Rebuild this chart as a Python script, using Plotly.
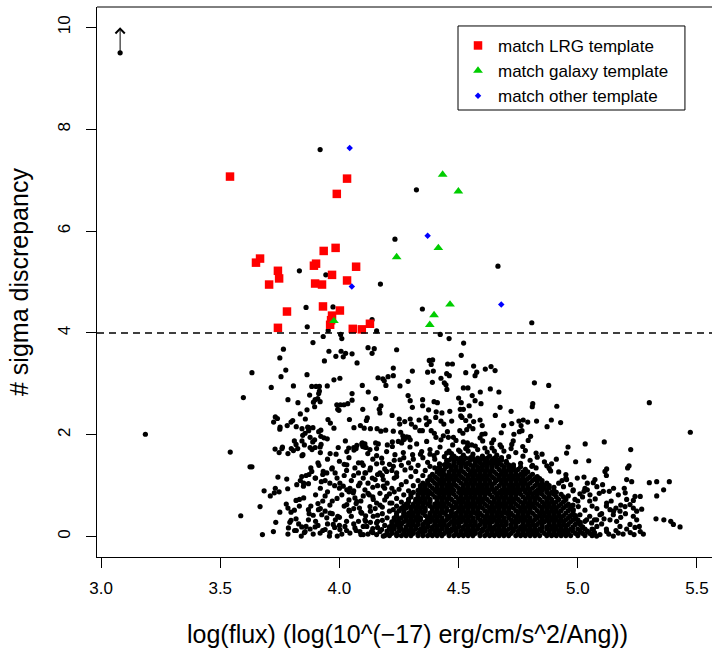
import plotly.graph_objects as go

# ── data ──────────────────────────────────────────────────────────────────────

# objects that match the LRG template (red squares)
lrg_pts = [
    (3.541, 7.07), (4.032, 7.03), (3.989, 6.73), (3.934, 5.61), (3.984, 5.67),
    (3.667, 5.46), (3.650, 5.38), (3.893, 5.32), (3.902, 5.36), (4.070, 5.30),
    (3.742, 5.22), (3.747, 5.07), (3.969, 5.14), (3.705, 4.95), (3.898, 4.97),
    (3.927, 4.95), (4.032, 5.03), (3.931, 4.52), (3.780, 4.42), (3.969, 4.34),
    (4.002, 4.44), (3.961, 4.16), (3.965, 4.25), (3.742, 4.10), (4.056, 4.08),
    (4.094, 4.07), (4.128, 4.18),
]

# objects that match a galaxy template (green triangles)
gal_pts = [
    (4.433, 7.11), (4.499, 6.78), (4.415, 5.67), (4.240, 5.49),
    (4.464, 4.56), (4.397, 4.35), (4.379, 4.16), (3.977, 4.235),
]

# objects that match some other template (blue diamonds)
oth_pts = [(4.043, 7.63), (4.370, 5.91), (4.052, 4.91), (4.679, 4.56)]

# lower limit shown with an arrow
lim_x = 3.08
lim_y = 9.5
lim_top = 10.0

threshold = 4.0

# all other objects (black dots), the scattered ones
dot_pts = [
    (3.080, 9.50), (3.919, 7.60), (4.323, 6.81), (4.233, 5.84), (4.665, 5.31), (3.832, 5.22),
    (3.943, 5.14), (4.172, 4.96), (3.860, 4.50), (3.973, 4.51), (4.348, 4.47), (4.137, 4.26),
    (4.807, 4.20), (3.865, 4.12), (3.953, 4.05), (4.156, 4.04),
    (3.765, 3.68), (3.750, 3.51), (3.775, 3.27), (3.755, 3.14), (3.633, 3.22), (3.864, 3.18),
    (3.807, 2.96), (3.714, 2.93), (3.597, 2.73), (3.784, 2.69), (3.826, 2.63), (3.864, 2.49),
    (3.836, 2.41), (3.731, 2.35), (3.740, 2.32), (3.724, 2.25), (3.797, 2.25), (3.804, 2.28),
    (3.781, 2.18), (3.751, 2.15), (3.750, 2.11), (3.819, 2.16), (3.843, 2.12), (3.867, 2.15),
    (3.856, 2.03), (3.846, 1.99), (3.186, 2.01), (3.811, 1.88), (3.843, 1.88), (3.853, 1.80),
    (3.730, 1.72), (3.759, 1.73), (3.747, 1.65), (3.784, 1.63), (3.798, 1.73), (3.825, 1.73),
    (3.843, 1.59), (3.847, 1.61), (3.542, 1.66), (3.625, 1.37), (3.633, 1.37), (3.742, 1.17),
    (3.779, 1.13), (3.842, 1.18), (3.860, 1.20), (3.849, 0.99), (3.870, 1.04), (3.684, 0.90),
    (3.731, 0.95), (3.727, 0.86), (3.747, 0.88), (3.710, 0.80), (3.783, 0.94), (3.818, 0.71),
    (3.832, 0.73), (3.850, 0.76), (3.667, 0.59), (3.777, 0.64), (3.784, 0.56), (3.832, 0.60),
    (3.750, 0.48), (3.797, 0.48), (3.811, 0.52), (3.870, 0.53), (3.873, 0.45), (3.586, 0.41),
    (3.733, 0.28), (3.792, 0.28), (3.797, 0.32), (3.818, 0.35), (3.829, 0.25), (3.860, 0.20),
    (3.723, 0.10), (3.677, 0.04), (3.784, 0.05), (3.812, 0.12), (3.819, 0.12), (3.840, 0.01),
    (3.853, 0.08),
    (4.423, 3.97), (4.460, 3.89), (4.521, 3.80), (3.889, 3.81), (3.932, 3.93), (4.005, 3.97),
    (4.010, 3.89), (4.120, 3.71), (4.146, 3.69), (4.137, 3.60), (3.956, 3.64), (4.007, 3.64),
    (4.016, 3.53), (4.026, 3.60), (4.053, 3.59), (3.985, 3.54), (4.240, 3.67), (3.937, 3.45),
    (4.074, 3.41), (4.511, 3.56), (4.377, 3.46), (4.391, 3.47), (4.385, 3.38), (4.454, 3.39),
    (4.474, 3.39), (4.226, 3.31), (4.306, 3.25), (4.370, 3.23), (4.394, 3.25), (4.450, 3.20),
    (4.461, 3.16), (4.530, 3.22), (4.162, 3.12), (4.182, 3.10), (4.188, 3.06), (4.204, 3.14),
    (4.226, 3.16), (3.977, 3.08), (4.002, 3.11), (4.390, 3.03), (4.426, 3.11), (4.440, 3.02),
    (4.447, 2.98), (3.884, 2.95), (3.902, 2.95), (3.916, 2.95), (3.916, 2.86), (3.913, 2.81),
    (3.949, 2.96), (4.096, 2.97), (4.195, 2.97), (4.254, 2.96), (4.288, 3.05), (4.451, 2.89),
    (4.520, 2.92), (4.539, 2.92), (3.875, 2.78), (3.898, 2.69), (3.909, 2.71), (3.919, 2.65),
    (3.891, 2.64), (4.053, 2.81), (4.053, 2.68), (4.121, 2.84), (4.152, 2.71), (4.288, 2.77),
    (4.297, 2.67), (4.349, 2.69), (4.397, 2.65), (4.411, 2.63), (4.500, 2.72), (4.511, 2.63),
    (3.896, 2.55), (3.989, 2.59), (4.004, 2.59), (4.019, 2.59), (4.035, 2.61), (3.993, 2.50),
    (3.998, 2.48), (4.098, 2.50), (4.174, 2.57), (4.167, 2.50), (4.170, 2.43), (4.306, 2.54),
    (4.349, 2.57), (4.374, 2.49), (4.406, 2.45), (4.430, 2.43), (4.463, 2.46), (4.507, 2.50),
    (4.520, 2.50), (4.544, 2.57), (3.857, 2.31), (3.952, 2.30), (3.962, 2.23), (4.042, 2.30),
    (4.117, 2.33), (4.113, 2.28), (4.221, 2.38), (4.251, 2.31), (4.274, 2.26), (4.253, 2.21),
    (4.297, 2.31), (4.302, 2.21), (4.334, 2.29), (4.363, 2.33), (4.377, 2.26), (4.366, 2.20),
    (4.404, 2.34), (4.426, 2.27), (4.438, 2.21), (4.471, 2.27), (4.509, 2.37), (4.514, 2.34),
    (4.530, 2.28), (4.545, 2.17), (3.871, 2.14), (3.889, 2.14), (3.871, 2.08), (3.922, 2.09),
    (3.913, 2.06), (3.977, 2.13), (4.061, 2.14), (4.088, 2.18), (4.104, 2.13), (4.130, 2.12),
    (4.158, 2.12), (4.174, 2.07), (4.194, 2.09), (4.226, 2.07), (4.257, 2.05), (4.266, 1.98),
    (4.272, 1.91), (4.291, 1.95), (4.297, 1.90), (4.318, 2.15), (4.337, 2.08), (4.348, 2.08),
    (4.385, 2.08), (4.398, 2.03), (4.405, 1.95), (4.426, 1.90), (4.436, 1.98), (4.453, 2.06),
    (4.457, 1.95), (4.478, 1.95), (4.489, 1.89), (4.505, 2.08), (4.518, 2.03), (4.534, 2.10),
    (3.877, 1.95), (3.896, 1.90), (3.888, 1.86), (3.922, 1.97), (3.935, 1.94), (3.949, 1.92),
    (4.025, 1.88), (4.096, 1.84), (4.107, 1.82), (4.152, 1.84), (4.163, 1.82), (4.201, 1.80),
    (4.222, 1.86), (4.247, 1.87), (4.267, 1.90), (4.282, 1.96), (3.877, 1.75), (3.898, 1.75),
    (3.919, 1.76), (4.039, 1.74), (4.060, 1.75), (4.070, 1.73), (4.098, 1.77), (4.112, 1.75),
    (4.156, 1.73),
    (3.761, 1.76), (3.807, 1.69), (3.818, 1.81), (3.885, 1.71), (3.920, 1.65), (3.923, 1.81),
    (3.961, 1.63), (3.986, 1.62), (3.995, 1.75), (4.031, 1.67), (4.061, 1.70), (4.073, 1.79),
    (4.094, 1.82), (4.104, 1.76), (4.119, 1.63), (4.128, 1.71), (4.156, 1.59), (4.177, 1.54),
    (4.198, 1.67), (4.222, 1.77), (4.233, 1.61), (4.261, 1.84), (4.268, 1.65), (4.296, 1.76),
    (4.307, 1.61), (4.324, 1.82), (4.345, 1.67), (4.366, 1.87), (4.380, 1.71), (4.397, 1.59),
    (4.422, 1.76), (4.450, 1.64), (4.475, 1.80), (4.506, 1.67), (4.537, 1.77), (3.914, 1.40),
    (3.932, 1.28), (3.947, 1.25), (3.968, 1.33), (3.982, 1.25), (3.872, 1.22), (3.884, 1.28),
    (3.898, 1.15), (3.924, 1.08), (4.031, 1.41), (4.065, 1.35), (4.094, 1.45), (4.107, 1.25),
    (4.128, 1.31), (4.138, 1.15), (4.156, 1.43), (4.170, 1.25), (4.184, 1.12), (4.198, 1.28),
    (4.226, 1.38), (4.240, 1.18), (4.254, 1.51), (4.275, 1.31), (3.836, 1.10), (3.850, 1.05),
    (3.821, 1.02), (3.912, 0.53), (3.926, 0.43), (3.947, 0.37), (3.961, 0.46), (3.983, 0.33),
    (3.993, 0.40), (4.031, 0.63), (4.042, 0.50), (4.073, 0.69), (4.084, 0.56), (4.094, 0.46),
    (4.107, 0.33), (4.128, 0.59), (4.142, 0.40), (4.156, 0.27), (3.786, 0.17), (3.842, 0.19),
    (3.856, 0.10), (3.877, 0.15), (3.898, 0.19), (3.919, 0.07), (3.940, 0.14), (3.958, 0.01),
    (3.991, 0.01), (3.974, 0.24), (4.002, 0.14), (4.023, 0.20), (4.044, 0.07), (4.065, 0.17),
    (4.086, 0.10), (4.100, 0.04), (4.115, 0.20), (4.135, 0.10), (4.156, 0.04), (4.177, 0.14),
    (4.184, 0.01), (4.002, 1.05), (4.016, 0.99), (4.031, 0.92), (4.044, 0.95), (4.058, 0.86),
    (4.065, 0.76), (4.086, 1.05), (4.107, 0.92), (4.125, 0.82), (4.142, 0.73), (4.156, 0.66),
    (4.184, 0.99), (4.198, 0.79), (4.212, 0.66), (4.226, 0.53), (4.240, 0.40), (4.254, 0.27),
    (4.563, 3.35), (4.576, 3.23), (4.569, 3.16), (4.612, 3.29), (4.636, 3.34), (4.653, 3.26),
    (4.591, 2.84), (4.633, 2.90), (4.669, 2.84), (4.557, 2.77), (4.569, 2.67), (4.594, 2.61),
    (4.818, 3.02), (4.878, 2.97), (4.811, 2.61), (4.809, 2.55), (4.912, 2.56), (4.674, 2.54),
    (4.720, 2.46), (4.654, 2.38), (4.547, 2.37), (4.827, 2.27), (4.889, 2.29), (4.928, 2.24),
    (4.871, 2.16), (4.563, 2.26), (4.590, 2.29), (4.599, 2.18), (4.723, 2.22), (4.689, 2.18),
    (4.753, 2.27), (4.771, 2.29), (4.790, 2.25), (4.762, 2.18), (4.766, 2.08), (4.755, 2.06),
    (4.679, 2.04), (4.732, 2.01), (4.802, 1.97), (4.792, 1.89), (4.560, 2.12), (4.598, 2.01),
    (4.611, 2.02), (4.590, 1.94), (4.601, 1.88), (4.647, 1.90), (4.639, 1.84), (4.674, 1.80),
    (4.729, 1.88), (4.723, 1.81), (4.769, 1.77), (4.520, 1.86), (4.537, 1.84), (4.555, 1.80),
    (5.300, 2.63), (5.472, 2.05), (4.959, 1.76), (4.953, 1.64), (5.031, 1.82), (5.111, 1.86),
    (5.222, 1.71), (4.991, 1.47), (5.046, 1.49), (5.114, 1.28), (5.121, 1.33), (5.215, 1.39),
    (5.209, 1.35), (4.825, 1.64), (4.870, 1.39), (4.886, 1.29), (4.807, 1.38), (4.825, 1.35),
    (4.934, 1.10), (4.953, 1.12), (4.998, 1.15), (5.026, 1.17), (5.065, 1.06), (5.072, 1.12),
    (5.104, 1.02), (5.205, 1.12), (5.226, 1.08), (5.300, 1.06), (5.331, 1.08), (5.384, 1.08),
    (5.360, 0.92), (5.331, 0.80), (5.195, 0.95), (5.199, 0.86), (5.107, 0.89), (5.132, 0.89),
    (5.040, 0.92), (5.051, 0.82), (5.073, 0.74), (4.981, 0.92), (5.009, 0.84), (5.026, 0.89),
    (5.262, 0.79), (5.240, 0.79), (5.233, 0.71), (5.205, 0.73), (5.219, 0.63), (5.233, 0.56),
    (5.247, 0.50), (5.268, 0.54), (5.160, 0.56), (5.177, 0.50), (5.198, 0.59), (5.121, 0.66),
    (5.135, 0.53), (5.149, 0.43), (5.163, 0.30), (5.328, 0.35), (5.361, 0.33), (5.390, 0.30),
    (5.401, 0.24), (5.429, 0.19), (5.233, 0.40), (5.247, 0.33), (5.258, 0.20), (5.262, 0.10),
    (5.275, 0.05), (5.236, 0.04), (5.177, 0.20), (5.205, 0.15), (5.219, 0.24), (5.135, 0.33),
    (5.170, 0.07), (5.149, 0.01), (5.065, 0.14), (5.093, 0.04), (5.121, 0.10), (5.079, 0.01),
    (5.037, 0.33), (5.058, 0.27), (5.079, 0.33), (5.093, 0.43), (4.988, 0.73), (5.002, 0.59),
    (4.981, 0.53), (5.009, 0.43), (4.967, 0.40),
]

# black dots on the fringe of the dense clump (estimated)
fringe_pts = [
    (4.56, 1.62), (4.58, 1.71), (4.60, 1.58), (4.62, 1.66), (4.64, 1.74), (4.66, 1.60),
    (4.69, 1.68), (4.71, 1.57), (4.74, 1.65), (4.77, 1.58), (4.80, 1.50), (4.83, 1.56),
    (4.86, 1.47), (4.89, 1.43), (4.91, 1.52), (4.72, 1.73), (4.78, 1.69), (4.85, 1.62),
    (4.70, 1.48), (4.76, 1.44), (4.81, 1.40), (4.88, 1.34), (4.92, 1.27), (4.95, 1.22),
    (4.62, 1.50), (4.66, 1.52), (4.58, 1.49),
    (4.27, 1.55), (4.29, 1.45), (4.31, 1.52), (4.33, 1.40), (4.35, 1.55), (4.37, 1.46),
    (4.40, 1.52), (4.42, 1.43), (4.44, 1.57), (4.46, 1.68), (4.48, 1.58), (4.50, 1.52),
    (4.52, 1.60), (4.54, 1.68), (4.30, 1.35), (4.26, 1.40), (4.34, 1.62), (4.38, 1.62),
    (4.41, 1.65), (4.45, 1.50),
    (4.12, 0.05), (4.14, 0.16), (4.16, 0.30), (4.17, 0.10), (4.19, 0.22), (4.20, 0.37),
    (4.18, 0.45), (4.21, 0.50), (4.13, 0.28), (4.11, 0.41), (4.15, 0.55), (4.17, 0.62),
    (4.19, 0.72), (4.21, 0.84), (4.22, 0.95), (4.20, 1.05), (4.23, 1.15), (4.24, 0.60),
    (4.10, 0.20), (4.08, 0.30), (4.05, 0.40), (4.07, 0.12), (4.03, 0.30), (4.00, 0.22),
    (4.04, 0.52), (4.09, 0.70), (4.12, 0.85), (4.14, 0.97), (4.06, 0.90), (4.10, 1.15),
    (4.16, 1.22), (4.19, 1.33), (4.21, 1.42), (4.24, 1.25), (4.13, 1.35), (4.08, 1.25),
    (4.02, 1.20), (4.05, 1.10), (3.98, 1.00), (3.95, 0.88), (3.99, 0.75), (3.96, 0.62),
    (3.93, 0.70), (3.90, 0.82), (3.88, 0.60), (3.92, 0.55), (3.95, 0.25), (3.90, 0.30),
    (3.87, 0.33), (3.94, 1.10), (3.97, 1.35), (4.00, 1.48), (4.04, 1.55), (4.08, 1.45),
    (3.91, 1.45), (3.88, 1.35),
    (5.00, 0.05), (5.02, 0.18), (5.04, 0.10), (5.01, 0.28), (4.99, 0.36), (5.05, 0.40),
    (5.03, 0.52), (4.98, 0.62), (5.00, 0.70), (4.96, 0.80), (4.94, 0.98), (4.97, 1.02),
    (4.92, 1.05), (4.90, 0.97), (5.08, 0.20), (5.10, 0.25), (5.12, 0.15), (5.10, 0.45),
    (5.06, 0.60), (5.14, 0.70), (5.16, 0.12), (5.18, 0.38), (5.03, 0.95), (5.08, 0.98),
    (5.12, 1.20), (5.15, 0.95),
    (3.89, 0.05), (3.91, 0.22), (3.93, 0.12), (3.96, 0.08), (3.98, 0.18), (4.01, 0.05),
    (4.03, 0.12), (4.06, 0.25), (4.09, 0.04), (4.11, 0.30), (4.14, 0.08), (4.16, 0.18),
    (4.18, 0.32), (3.89, 0.42), (3.94, 0.50), (3.97, 0.45), (4.00, 0.38), (4.02, 0.60),
    (4.06, 0.55), (4.09, 0.48), (4.13, 0.50), (4.16, 0.42), (4.18, 0.58), (3.91, 0.65),
    (3.94, 0.80), (3.97, 0.70), (4.01, 0.82), (4.04, 0.72), (4.07, 0.65), (4.10, 0.80),
    (4.14, 0.78), (4.17, 0.85), (3.92, 0.95), (3.96, 1.05), (4.00, 0.95), (4.04, 0.88),
    (4.08, 1.00), (4.12, 1.05), (4.16, 1.00), (4.19, 0.95), (3.90, 1.15), (3.93, 1.22),
    (3.99, 1.15), (4.03, 1.30), (4.06, 1.20), (4.11, 1.25), (4.15, 1.12), (4.18, 1.20),
    (4.22, 1.30), (3.95, 1.52), (4.02, 1.42), (4.10, 1.40), (4.14, 1.52), (4.18, 1.45),
    (4.23, 1.50),
    (4.22, 0.66), (4.24, 0.75), (4.26, 0.68), (4.23, 0.88), (4.25, 0.93), (4.27, 0.82),
    (4.29, 0.90), (4.26, 1.02), (4.28, 1.08), (4.31, 1.00), (4.30, 1.18), (4.33, 1.10),
    (4.35, 1.20), (4.32, 1.28), (4.36, 1.30), (4.38, 1.38), (4.40, 1.35),
    (4.47, 1.63), (4.50, 1.70), (4.53, 1.73), (4.57, 1.78), (4.61, 1.74), (4.65, 1.68),
    (4.68, 1.76), (4.63, 1.58), (4.68, 1.55), (4.55, 1.55),
    (4.95, 1.15), (4.98, 0.90), (5.02, 0.78), (5.05, 0.70), (5.08, 0.55), (5.11, 0.35),
    (5.13, 0.05), (5.07, 0.08), (5.03, 0.30), (5.06, 0.15), (5.04, 1.05), (5.09, 0.85),
    (5.12, 0.60), (5.15, 0.50), (5.18, 0.62), (5.17, 0.82), (5.20, 0.45), (5.22, 0.08),
    (5.19, 0.05), (5.24, 0.18), (5.07, 0.33),
]

# the dense clump, one list of log(flux) values per sigma level (estimated)
blob_levels = [0.02, 0.11, 0.19, 0.29, 0.37, 0.46, 0.56, 0.64, 0.73,
               0.83, 0.91, 1.00, 1.10, 1.18, 1.27, 1.37, 1.45, 1.54]
blob_rows = [
    [4.19, 4.21, 4.24, 4.26, 4.28, 4.30, 4.33, 4.35, 4.37, 4.39, 4.41, 4.43, 4.46, 4.48, 4.50,
     4.52, 4.54, 4.56, 4.59, 4.61, 4.63, 4.65, 4.67, 4.69, 4.71, 4.74, 4.76, 4.78, 4.80, 4.82,
     4.84, 4.87, 4.89, 4.91, 4.93, 4.95, 4.97, 5.00, 5.03, 5.06],
    [4.20, 4.22, 4.25, 4.27, 4.29, 4.31, 4.34, 4.36, 4.38, 4.40, 4.42, 4.45, 4.47, 4.49, 4.51,
     4.53, 4.55, 4.57, 4.60, 4.62, 4.64, 4.66, 4.68, 4.70, 4.73, 4.75, 4.77, 4.79, 4.81, 4.83,
     4.85, 4.88, 4.90, 4.92, 4.94, 4.96, 4.98, 5.01, 5.04],
    [4.21, 4.23, 4.25, 4.28, 4.30, 4.32, 4.35, 4.37, 4.39, 4.41, 4.43, 4.45, 4.48, 4.50, 4.52,
     4.54, 4.56, 4.58, 4.61, 4.63, 4.65, 4.67, 4.69, 4.72, 4.74, 4.76, 4.78, 4.80, 4.82, 4.85,
     4.87, 4.89, 4.91, 4.93, 4.95, 4.98, 5.02],
    [4.22, 4.24, 4.27, 4.29, 4.31, 4.33, 4.36, 4.38, 4.40, 4.42, 4.44, 4.47, 4.49, 4.51, 4.53,
     4.55, 4.57, 4.60, 4.62, 4.64, 4.66, 4.68, 4.70, 4.73, 4.75, 4.77, 4.79, 4.81, 4.84, 4.86,
     4.88, 4.90, 4.92, 4.94, 4.97, 5.00],
    [4.23, 4.26, 4.28, 4.30, 4.32, 4.34, 4.37, 4.39, 4.41, 4.43, 4.46, 4.48, 4.50, 4.52, 4.54,
     4.56, 4.58, 4.61, 4.63, 4.65, 4.67, 4.69, 4.71, 4.74, 4.76, 4.78, 4.80, 4.83, 4.85, 4.87,
     4.89, 4.91, 4.93, 4.96, 4.99],
    [4.24, 4.27, 4.29, 4.31, 4.33, 4.35, 4.38, 4.40, 4.42, 4.44, 4.47, 4.49, 4.51, 4.53, 4.55,
     4.57, 4.59, 4.62, 4.64, 4.66, 4.68, 4.70, 4.72, 4.75, 4.77, 4.79, 4.81, 4.84, 4.86, 4.88,
     4.90, 4.92, 4.95, 4.98],
    [4.26, 4.28, 4.30, 4.32, 4.34, 4.36, 4.39, 4.41, 4.43, 4.45, 4.48, 4.50, 4.52, 4.54, 4.56,
     4.58, 4.60, 4.63, 4.65, 4.67, 4.69, 4.71, 4.73, 4.76, 4.78, 4.80, 4.82, 4.85, 4.87, 4.89,
     4.91, 4.94, 4.97],
    [4.28, 4.31, 4.33, 4.35, 4.37, 4.40, 4.42, 4.44, 4.46, 4.49, 4.51, 4.53, 4.55, 4.57, 4.59,
     4.61, 4.64, 4.66, 4.68, 4.70, 4.72, 4.74, 4.77, 4.79, 4.81, 4.83, 4.86, 4.88, 4.90, 4.93,
     4.96],
    [4.29, 4.32, 4.34, 4.36, 4.38, 4.41, 4.43, 4.45, 4.47, 4.50, 4.52, 4.54, 4.56, 4.58, 4.60,
     4.62, 4.65, 4.67, 4.69, 4.71, 4.73, 4.75, 4.78, 4.80, 4.82, 4.84, 4.87, 4.89, 4.92, 4.95],
    [4.30, 4.33, 4.35, 4.37, 4.39, 4.42, 4.44, 4.46, 4.48, 4.51, 4.53, 4.55, 4.57, 4.59, 4.61,
     4.63, 4.66, 4.68, 4.70, 4.72, 4.74, 4.76, 4.79, 4.81, 4.83, 4.85, 4.88, 4.90, 4.93],
    [4.33, 4.35, 4.37, 4.40, 4.42, 4.44, 4.46, 4.48, 4.51, 4.53, 4.55, 4.57, 4.59, 4.61, 4.63,
     4.65, 4.68, 4.70, 4.72, 4.74, 4.76, 4.78, 4.80, 4.83, 4.85, 4.87, 4.90],
    [4.34, 4.36, 4.38, 4.41, 4.43, 4.45, 4.47, 4.49, 4.52, 4.54, 4.56, 4.58, 4.60, 4.62, 4.64,
     4.67, 4.69, 4.71, 4.73, 4.75, 4.77, 4.79, 4.82, 4.84, 4.86, 4.88],
    [4.37, 4.39, 4.42, 4.44, 4.46, 4.48, 4.50, 4.53, 4.55, 4.57, 4.59, 4.61, 4.63, 4.66, 4.68,
     4.70, 4.72, 4.74, 4.76, 4.78, 4.81, 4.83, 4.85],
    [4.38, 4.40, 4.43, 4.45, 4.47, 4.49, 4.51, 4.54, 4.56, 4.58, 4.60, 4.62, 4.64, 4.67, 4.69,
     4.71, 4.73, 4.75, 4.77, 4.80, 4.83],
    [4.41, 4.43, 4.46, 4.48, 4.50, 4.52, 4.55, 4.57, 4.59, 4.61, 4.63, 4.65, 4.68, 4.70, 4.72,
     4.74, 4.77, 4.79],
    [4.42, 4.45, 4.47, 4.49, 4.51, 4.53, 4.56, 4.58, 4.60, 4.62, 4.64, 4.66, 4.69, 4.71, 4.73,
     4.76],
    [4.45, 4.48, 4.50, 4.52, 4.54, 4.57, 4.59, 4.61, 4.63, 4.65, 4.67, 4.70],
    [4.47, 4.49, 4.51, 4.53, 4.56, 4.58, 4.60, 4.62, 4.65],
]

# more of the dense clump, between the levels above (estimated)
blob_mid_levels = [0.065, 0.15, 0.24, 0.33, 0.415, 0.51, 0.60, 0.685, 0.78,
                   0.87, 0.955, 1.05, 1.14, 1.225, 1.32, 1.41, 1.50]
blob_mid_rows = [
    [4.20, 4.22, 4.24, 4.27, 4.29, 4.31, 4.33, 4.35, 4.38, 4.40, 4.42, 4.44, 4.46, 4.49, 4.51,
     4.53, 4.55, 4.57, 4.59, 4.62, 4.64, 4.66, 4.68, 4.70, 4.72, 4.75, 4.77, 4.79, 4.81, 4.83,
     4.86, 4.88, 4.90, 4.92, 4.94, 4.96, 4.99, 5.02, 5.05],
    [4.21, 4.23, 4.26, 4.28, 4.30, 4.32, 4.34, 4.36, 4.39, 4.41, 4.43, 4.45, 4.47, 4.49, 4.52,
     4.54, 4.56, 4.58, 4.60, 4.63, 4.65, 4.67, 4.69, 4.71, 4.73, 4.76, 4.78, 4.80, 4.82, 4.84,
     4.87, 4.89, 4.91, 4.93, 4.95, 4.97, 5.00, 5.03],
    [4.22, 4.24, 4.26, 4.29, 4.31, 4.33, 4.35, 4.37, 4.40, 4.42, 4.44, 4.46, 4.48, 4.50, 4.53,
     4.55, 4.57, 4.59, 4.61, 4.63, 4.66, 4.68, 4.70, 4.72, 4.74, 4.77, 4.79, 4.81, 4.83, 4.85,
     4.88, 4.90, 4.92, 4.94, 4.96, 4.99, 5.01],
    [4.23, 4.25, 4.28, 4.30, 4.32, 4.34, 4.37, 4.39, 4.41, 4.43, 4.45, 4.48, 4.50, 4.52, 4.54,
     4.56, 4.59, 4.61, 4.63, 4.65, 4.67, 4.69, 4.72, 4.74, 4.76, 4.78, 4.80, 4.82, 4.85, 4.87,
     4.89, 4.91, 4.93, 4.95, 4.98, 5.00],
    [4.24, 4.27, 4.29, 4.31, 4.33, 4.36, 4.38, 4.40, 4.42, 4.45, 4.47, 4.49, 4.51, 4.53, 4.55,
     4.58, 4.60, 4.62, 4.64, 4.66, 4.68, 4.71, 4.73, 4.75, 4.77, 4.79, 4.82, 4.84, 4.86, 4.88,
     4.90, 4.92, 4.94, 4.97, 4.99],
    [4.25, 4.27, 4.30, 4.32, 4.34, 4.36, 4.39, 4.41, 4.43, 4.45, 4.47, 4.50, 4.52, 4.54, 4.56,
     4.58, 4.61, 4.63, 4.65, 4.67, 4.69, 4.71, 4.74, 4.76, 4.78, 4.80, 4.83, 4.85, 4.87, 4.89,
     4.91, 4.93, 4.96, 4.98],
    [4.27, 4.29, 4.31, 4.33, 4.35, 4.38, 4.40, 4.42, 4.44, 4.47, 4.49, 4.51, 4.53, 4.55, 4.57,
     4.59, 4.62, 4.64, 4.66, 4.68, 4.70, 4.72, 4.75, 4.77, 4.79, 4.81, 4.84, 4.86, 4.88, 4.90,
     4.92, 4.95, 4.97],
    [4.29, 4.32, 4.34, 4.36, 4.38, 4.41, 4.43, 4.45, 4.48, 4.50, 4.52, 4.54, 4.56, 4.58, 4.60,
     4.63, 4.65, 4.67, 4.69, 4.71, 4.73, 4.76, 4.78, 4.80, 4.82, 4.85, 4.87, 4.89, 4.91, 4.94],
    [4.30, 4.33, 4.35, 4.37, 4.40, 4.42, 4.44, 4.46, 4.49, 4.51, 4.53, 4.55, 4.57, 4.59, 4.61,
     4.64, 4.66, 4.68, 4.70, 4.72, 4.74, 4.77, 4.79, 4.81, 4.83, 4.86, 4.88, 4.91, 4.94],
    [4.31, 4.34, 4.36, 4.38, 4.41, 4.43, 4.45, 4.47, 4.50, 4.52, 4.54, 4.56, 4.58, 4.60, 4.62,
     4.65, 4.67, 4.69, 4.71, 4.73, 4.75, 4.78, 4.80, 4.82, 4.84, 4.87, 4.89, 4.91],
    [4.34, 4.36, 4.39, 4.41, 4.43, 4.45, 4.47, 4.50, 4.52, 4.54, 4.56, 4.58, 4.60, 4.62, 4.64,
     4.66, 4.69, 4.71, 4.73, 4.75, 4.77, 4.79, 4.81, 4.84, 4.86, 4.88],
    [4.35, 4.37, 4.40, 4.42, 4.44, 4.46, 4.48, 4.51, 4.53, 4.55, 4.57, 4.59, 4.61, 4.63, 4.65,
     4.68, 4.70, 4.72, 4.74, 4.76, 4.78, 4.80, 4.83, 4.85, 4.87],
    [4.38, 4.41, 4.43, 4.45, 4.47, 4.49, 4.52, 4.54, 4.56, 4.58, 4.60, 4.62, 4.65, 4.67, 4.69,
     4.71, 4.73, 4.75, 4.77, 4.79, 4.82, 4.84],
    [4.39, 4.42, 4.44, 4.46, 4.48, 4.50, 4.53, 4.55, 4.57, 4.59, 4.61, 4.63, 4.66, 4.68, 4.70,
     4.72, 4.74, 4.76, 4.78, 4.81],
    [4.42, 4.44, 4.47, 4.49, 4.51, 4.54, 4.56, 4.58, 4.60, 4.62, 4.64, 4.67, 4.69, 4.71, 4.73,
     4.75, 4.78],
    [4.44, 4.46, 4.48, 4.51, 4.53, 4.55, 4.57, 4.60, 4.62, 4.64, 4.66, 4.68, 4.71, 4.73],
    [4.46, 4.48, 4.50, 4.52, 4.55, 4.57, 4.59, 4.61, 4.64, 4.66, 4.68],
]

X_TICKS = [3.0, 3.5, 4.0, 4.5, 5.0, 5.5]
Y_TICKS = [0, 2, 4, 6, 8, 10]

# ── styling ───────────────────────────────────────────────────────────────────

FONT = "Liberation Sans, Arial, Helvetica, sans-serif"
RED = "#ff0000"
GREEN = "#00cd00"
BLUE = "#0000ff"

# ── build ─────────────────────────────────────────────────────────────────────

black_x = [p[0] for p in dot_pts + fringe_pts]
black_y = [p[1] for p in dot_pts + fringe_pts]
for lev, row in zip(blob_levels + blob_mid_levels, blob_rows + blob_mid_rows):
    black_x += row
    black_y += [lev] * len(row)

fig = go.Figure()

fig.add_trace(go.Scatter(
    x=black_x, y=black_y, mode="markers", showlegend=False,
    marker=dict(color="black", size=5.2, line=dict(width=0)),
))
fig.add_trace(go.Scatter(
    x=[p[0] for p in lrg_pts], y=[p[1] for p in lrg_pts], mode="markers",
    name="match LRG template",
    marker=dict(symbol="square", color=RED, size=8.5, line=dict(width=0)),
))
fig.add_trace(go.Scatter(
    x=[p[0] for p in gal_pts], y=[p[1] for p in gal_pts], mode="markers",
    name="match galaxy template",
    marker=dict(symbol="triangle-up", color=GREEN, size=8.5, line=dict(width=0)),
))
fig.add_trace(go.Scatter(
    x=[p[0] for p in oth_pts], y=[p[1] for p in oth_pts], mode="markers",
    name="match other template",
    marker=dict(symbol="diamond", color=BLUE, size=5, line=dict(width=0)),
))

# threshold line
fig.add_shape(type="line", xref="paper", x0=0, x1=1, yref="y", y0=threshold, y1=threshold,
              line=dict(color="black", width=1.4, dash="7px,5px"))
# top edge of the box
fig.add_shape(type="line", xref="paper", yref="paper", x0=0, x1=1, y0=1, y1=1,
              line=dict(color="black", width=1))
# legend box
fig.add_shape(type="rect", xref="paper", yref="paper", x0=0.587, x1=0.956, y0=0.8127, y1=0.9655,
              line=dict(color="black", width=1), fillcolor="white", layer="below")

annotations = [
    # lower-limit arrow
    dict(x=lim_x, y=lim_top, ax=lim_x, ay=lim_y, xref="x", yref="y", axref="x", ayref="y",
         text="", showarrow=True, arrowhead=4, arrowsize=1.8, arrowwidth=1, arrowcolor="black"),
    dict(text="log(flux) (log(10^(\u221217) erg/cm/s^2/Ang))", xref="paper", yref="paper",
         x=0.505, y=0, yshift=-77, xanchor="center", yanchor="middle", showarrow=False,
         font=dict(family=FONT, size=25, color="black")),
    dict(text="# sigma discrepancy", xref="paper", yref="paper", x=0, y=0.5, xshift=-78,
         textangle=-90, xanchor="center", yanchor="middle", showarrow=False,
         font=dict(family=FONT, size=25, color="black")),
]

fig.update_layout(
    width=712, height=652,
    margin=dict(l=97, r=0, t=7, b=95, autoexpand=False),
    paper_bgcolor="white", plot_bgcolor="white",
    font=dict(family=FONT, size=17, color="black"),
    annotations=annotations,
    legend=dict(x=0.587, y=0.962, xanchor="left", yanchor="top",
                bgcolor="rgba(0,0,0,0)", borderwidth=0, tracegroupgap=0,
                font=dict(family=FONT, size=17, color="black")),
)
fig.update_xaxes(
    range=[2.983, 5.563], tickvals=X_TICKS, ticktext=[f"{v:.1f}" for v in X_TICKS],
    showgrid=False, zeroline=False, showline=True, linecolor="black", linewidth=1,
    ticks="outside", ticklen=10, tickwidth=1, tickcolor="black", automargin=False,
    ticklabelstandoff=6,
    tickfont=dict(family=FONT, size=17, color="black"),
)
fig.update_yaxes(
    range=[-0.4, 10.4], tickvals=Y_TICKS, ticktext=[str(v) for v in Y_TICKS],
    showgrid=False, zeroline=False, showline=True, linecolor="black", linewidth=1,
    ticks="outside", ticklen=10, tickwidth=1, tickcolor="black", tickangle=-90,
    automargin=False, ticklabelstandoff=9,
    tickfont=dict(family=FONT, size=17, color="black"),
)

# the page's default 8px body margin would shift the whole figure
fig.write_html("out.html", config={"displayModeBar": False},
               post_script="document.body.style.margin='0px';")
